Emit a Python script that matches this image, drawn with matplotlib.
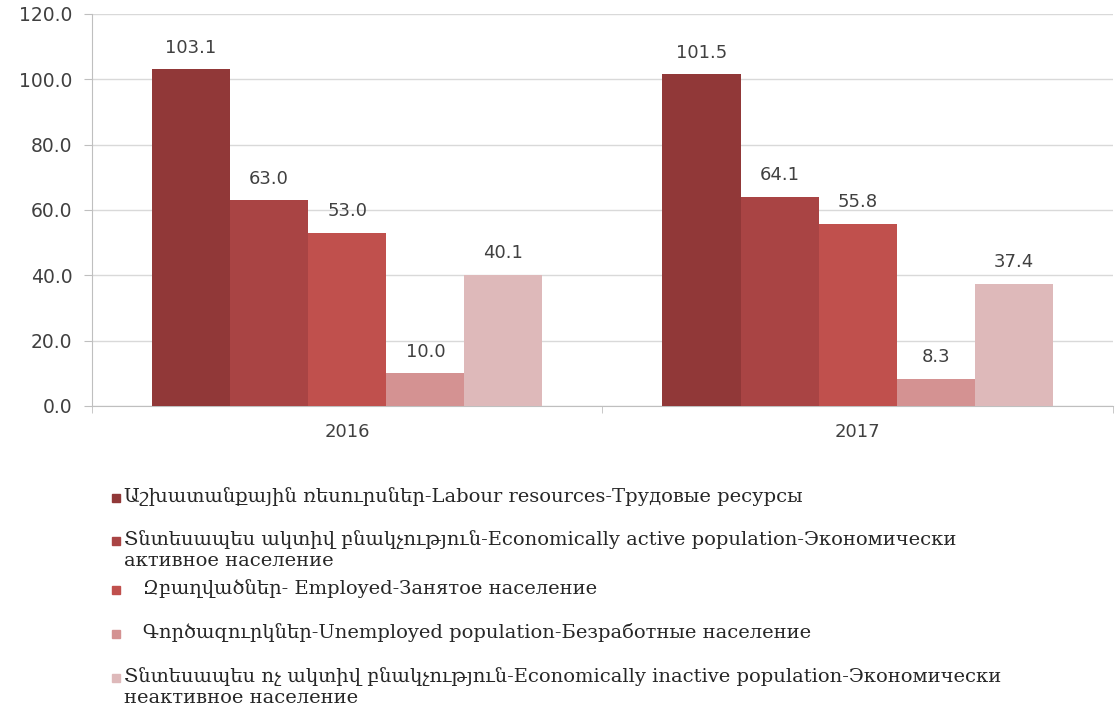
import matplotlib
matplotlib.use("Agg")
import matplotlib.pyplot as plt
from matplotlib.patches import Rectangle
import numpy as np

years = ["2016", "2017"]
series_labels = [
    "Աշխատանքային ռեսուրսներ-Labour resources-Трудовые ресурсы",
    "Տնտեսապես ակտիվ բնակչություն-Economically active population-Экономически\nактивное население",
    "   Զբաղվածներ- Employed-Занятое население",
    "   Գործազուրկներ-Unemployed population-Безработные население",
    "Տնտեսապես ոչ ակտիվ բնակչություն-Economically inactive population-Экономически\nнеактивное население",
]
labour = [103.1, 101.5]
active = [63.0, 64.1]
employed = [53.0, 55.8]
unemployed = [10.0, 8.3]
inactive = [40.1, 37.4]
series_values = [labour, active, employed, unemployed, inactive]
colors = ["#913838", "#A94444", "#C0504D", "#D49292", "#DEB9BA"]
yticks = [0, 20, 40, 60, 80, 100, 120]

fig = plt.figure(figsize=(11.16, 7.13), dpi=100)
ax = fig.add_axes([0.0824, 0.4306, 0.9149, 0.5498])

x = np.arange(len(years))
w = 0.153
for i, (vals, col) in enumerate(zip(series_values, colors)):
    pos = x + (i - 2) * w
    bars = ax.bar(pos, vals, width=w, color=col, zorder=3)
    for b, v in zip(bars, vals):
        ax.annotate(f"{v:.1f}", (b.get_x() + b.get_width() / 2, v),
                    xytext=(0, 9), textcoords="offset points",
                    ha="center", va="bottom", fontsize=13,
                    color="#404040", family="DejaVu Sans")

ax.set_xlim(-0.5, 1.5)
ax.set_ylim(0, 120)
ax.set_yticks(yticks)
ax.set_yticklabels([f"{t:.1f}" for t in yticks], fontsize=13.5, color="#404040")
ax.set_xticks(x)
ax.set_xticklabels(years, fontsize=13, color="#404040")
ax.set_xticks([-0.5, 0.5, 1.5], minor=True)
ax.tick_params(axis="x", which="major", length=0, pad=12)
ax.tick_params(axis="x", which="minor", length=5, color="#BFBFBF")
ax.tick_params(axis="y", length=6, color="#BFBFBF", pad=8)
ax.grid(axis="y", color="#D9D9D9", linewidth=1, zorder=0)
for s in ["top", "right"]:
    ax.spines[s].set_visible(False)
ax.spines["left"].set_color("#BFBFBF")
ax.spines["bottom"].set_color("#BFBFBF")

# legend
W, H = 1116, 713
ys = [498, 541, 590, 634, 678]
for lab, col, yc in zip(series_labels, colors, ys):
    fig.patches.append(Rectangle((112 / W, 1 - (yc + 4) / H), 8 / W, 8 / H,
                                 transform=fig.transFigure, color=col))
    fig.text(124 / W, 1 - (yc - 11) / H, lab, ha="left", va="top",
             fontsize=14, color="#262626", linespacing=1.25,
             family=["DejaVu Serif"])

fig.savefig("out.png", dpi=100)
